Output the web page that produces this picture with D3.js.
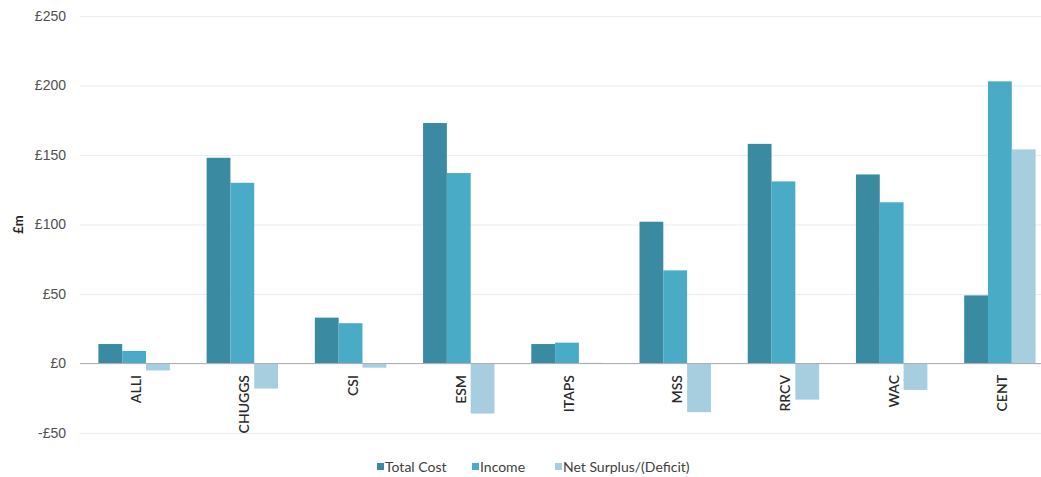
<!DOCTYPE html>
<html>
<head>
<meta charset="utf-8">
<script src="https://cdn.jsdelivr.net/npm/d3@7"></script>
<style>
  body { margin: 0; background: #fff; }
  svg { font-family: Lato, "Open Sans", sans-serif; }
</style>
</head>
<body>
<svg width="1041" height="477"></svg>
<script>
(function (d3) {
  const categories = ['ALLI', 'CHUGGS', 'CSI', 'ESM', 'ITAPS', 'MSS', 'RRCV', 'WAC', 'CENT'];
  const totalCost = [14, 148, 33, 173, 14, 102, 158, 136, 49];
  const income = [9, 130, 29, 137, 15, 67, 131, 116, 203];
  const netSurplus = [-5, -18, -3, -36, 0.5, -35, -26, -19, 154];
  const seriesNames = ['Total Cost', 'Income', 'Net Surplus/(Deficit)'];
  const yTicks = [-50, 0, 50, 100, 150, 200, 250];

  const colors = ['#3a8ba1', '#4aabc7', '#a7cede'];
  const seriesValues = [totalCost, income, netSurplus];

  const svg = d3.select('svg');

  const xScale = d3.scaleBand()
    .domain(categories)
    .range([80, 1054])
    .paddingInner(0.34)
    .paddingOuter(0.17);

  const xSub = d3.scaleBand()
    .domain(seriesNames)
    .range([0, xScale.bandwidth()]);

  const yScale = d3.scaleLinear()
    .domain([-50, 250])
    .range([433, 16]);

  // gridlines + tick labels
  const yAxis = d3.axisLeft(yScale)
    .tickValues(yTicks)
    .tickSize(-(1041 - 80))
    .tickPadding(14)
    .tickFormat(d => (d < 0 ? '-£' : '£') + Math.abs(d));

  const yAxisG = svg.append('g')
    .attr('transform', 'translate(80,0)')
    .call(yAxis);
  yAxisG.select('.domain').remove();
  yAxisG.selectAll('.tick line')
    .attr('stroke', '#ebebf0')
    .attr('stroke-width', 1);
  yAxisG.selectAll('.tick text')
    .attr('fill', '#505050')
    .style('font-size', '14px');

  svg.append('text')
    .attr('transform', `translate(23,${yScale(100)}) rotate(-90)`)
    .attr('text-anchor', 'middle')
    .attr('fill', '#222')
    .style('font-size', '13px')
    .style('font-weight', 'bold')
    .text('£m');

  // bars
  const rows = categories.map((c, i) => ({
    cat: c,
    vals: seriesNames.map((s, j) => ({ series: s, j, value: seriesValues[j][i] }))
  }));

  const groups = svg.selectAll('.group').data(rows)
    .enter().append('g')
      .attr('class', 'group')
      .attr('transform', d => `translate(${xScale(d.cat)},0)`);

  groups.selectAll('rect').data(d => d.vals)
    .enter().append('rect')
      .attr('x', d => xSub(d.series))
      .attr('width', xSub.bandwidth())
      .attr('y', d => yScale(Math.max(0, d.value)))
      .attr('height', d => Math.abs(yScale(d.value) - yScale(0)))
      .attr('fill', d => colors[d.j]);

  // zero line
  svg.append('line')
    .attr('x1', 80).attr('x2', 1041)
    .attr('y1', yScale(0)).attr('y2', yScale(0))
    .attr('stroke', '#b0b0b0')
    .attr('stroke-width', 1.2);

  // category labels
  svg.selectAll('.cat-label').data(categories)
    .enter().append('text')
      .attr('class', 'cat-label')
      .attr('transform', d => `translate(${xScale(d) + xScale.bandwidth() / 2 + 7},375) rotate(-90)`)
      .attr('text-anchor', 'end')
      .attr('fill', '#2a2a2a')
      .style('font-size', '14px')
      .style('font-weight', '600')
      .text(d => d);

  // legend
  const legendX = [377, 472, 555];
  const legend = svg.selectAll('.legend').data(seriesNames)
    .enter().append('g')
      .attr('class', 'legend')
      .attr('transform', (d, i) => `translate(${legendX[i]},467)`);
  legend.append('rect')
    .attr('x', 0).attr('y', -4)
    .attr('width', 7).attr('height', 7)
    .attr('fill', (d, i) => colors[i]);
  legend.append('text')
    .attr('x', 8)
    .attr('dy', '0.35em')
    .attr('fill', '#404040')
    .style('font-size', '14px')
    .text(d => d);
}(d3));
</script>
</body>
</html>
